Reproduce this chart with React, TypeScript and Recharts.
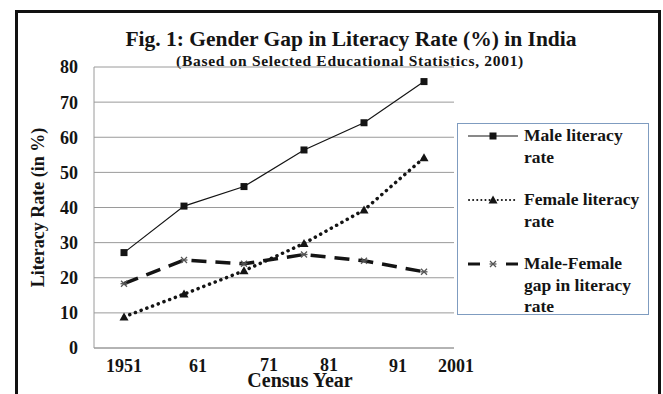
import React from "react";
import { LineChart, Line, XAxis, YAxis, CartesianGrid } from "recharts";

// Census years and literacy rates (%)
const years = ["1951", "61", "71", "81", "91", "2001"];
const maleRate = [27.16, 40.4, 45.96, 56.38, 64.13, 75.85];
const femaleRate = [8.86, 15.35, 21.97, 29.76, 39.29, 54.16];
const genderGap = [18.3, 25.05, 23.98, 26.62, 24.84, 21.69];
const yTicks = [0, 10, 20, 30, 40, 50, 60, 70, 80];

const data = years.map((year, i) => ({
  year,
  male: maleRate[i],
  female: femaleRate[i],
  gap: genderGap[i],
}));

const FONT = "'Liberation Serif', 'Times New Roman', serif";
const INK = "#141414";

// small nudges for the census-year labels
const yearLabelShift = [0, 14, 25, 25, 34, 32];
const yearLabelLift = [0, 0, 1.5, 1.5, 0, 0];

const SquareDot = (props: any) => {
  const { cx, cy } = props;
  if (cx == null || cy == null) return null;
  return <rect x={cx - 3.5} y={cy - 3.5} width={7} height={7} fill={INK} />;
};

const TriangleDot = (props: any) => {
  const { cx, cy } = props;
  if (cx == null || cy == null) return null;
  return (
    <path
      d={`M${cx},${cy - 4.5} L${cx + 4.5},${cy + 3.5} L${cx - 4.5},${cy + 3.5} Z`}
      fill={INK}
    />
  );
};

const StarDot = (props: any) => {
  const { cx, cy } = props;
  if (cx == null || cy == null) return null;
  return (
    <g stroke="#555" strokeWidth={1.3}>
      <line x1={cx - 3} y1={cy - 3} x2={cx + 3} y2={cy + 3} />
      <line x1={cx - 3} y1={cy + 3} x2={cx + 3} y2={cy - 3} />
      <line x1={cx - 3.5} y1={cy} x2={cx + 3.5} y2={cy} />
    </g>
  );
};

const YearTick = (props: any) => {
  const { x, y, payload, index } = props;
  return (
    <text
      x={x + (yearLabelShift[index] ?? 0)}
      y={y - (yearLabelLift[index] ?? 0)}
      dy="0.71em"
      textAnchor="middle"
      fontFamily={FONT}
      fontWeight="bold"
      fontSize={18}
      fill={INK}
    >
      {payload.value}
    </text>
  );
};

const legendItems = [
  { lines: ["Male literacy", "rate"], kind: "male" },
  { lines: ["Female literacy", "rate"], kind: "female" },
  { lines: ["Male-Female", "gap in literacy", "rate"], kind: "gap" },
];

const LegendSample = ({ kind }: { kind: string }) => {
  const y = 7;
  return (
    <svg width={52} height={14} style={{ display: "block" }}>
      {kind === "male" && (
        <>
          <line x1={1} y1={y} x2={51} y2={y} stroke={INK} strokeWidth={1.2} />
          <SquareDot cx={26} cy={y} />
        </>
      )}
      {kind === "female" && (
        <>
          <line
            x1={2}
            y1={y}
            x2={51}
            y2={y}
            stroke={INK}
            strokeWidth={2}
            strokeDasharray="0.1 4"
            strokeLinecap="round"
          />
          <TriangleDot cx={26} cy={y} />
        </>
      )}
      {kind === "gap" && (
        <>
          <line x1={1} y1={y} x2={13} y2={y} stroke={INK} strokeWidth={3} />
          <line x1={39} y1={y} x2={51} y2={y} stroke={INK} strokeWidth={3} />
          <StarDot cx={26} cy={y} />
        </>
      )}
    </svg>
  );
};

const LegendBox = () => (
  <div
    style={{
      position: "absolute",
      left: 457,
      top: 123,
      width: 192,
      height: 192,
      border: "1px solid #7f9cc0",
      boxSizing: "border-box",
      background: "#fff",
      fontFamily: FONT,
      fontWeight: "bold",
      fontSize: 17.5,
      color: INK,
      paddingTop: 1,
    }}
  >
    {legendItems.map((item, i) => (
      <div
        key={item.kind}
        style={{
          display: "flex",
          alignItems: "flex-start",
          marginTop: i === 0 ? 0 : 21,
        }}
      >
        <div style={{ width: 52, marginLeft: 9, marginTop: 4 }}>
          <LegendSample kind={item.kind} />
        </div>
        <div style={{ marginLeft: 5, lineHeight: "21.5px" }}>
          {item.lines.map((l) => (
            <div key={l} style={{ whiteSpace: "nowrap" }}>
              {l}
            </div>
          ))}
        </div>
      </div>
    ))}
  </div>
);

export default function App() {
  return (
    <div
      style={{
        position: "absolute",
        left: 0,
        top: 0,
        width: 663,
        height: 394,
        background: "#fff",
        overflow: "hidden",
      }}
    >
      <div
        style={{
          position: "absolute",
          left: 15,
          top: 10,
          width: 646,
          height: 400,
          border: "3px solid #111",
          boxSizing: "border-box",
        }}
      />
      <div
        style={{
          position: "absolute",
          left: 0,
          width: 702,
          top: 28,
          textAlign: "center",
          fontFamily: FONT,
          fontWeight: "bold",
          fontSize: 21.5,
          color: INK,
          lineHeight: "22px",
        }}
      >
        Fig. 1: Gender Gap in Literacy Rate (%) in India
      </div>
      <div
        style={{
          position: "absolute",
          left: 0,
          width: 700,
          top: 52.5,
          textAlign: "center",
          fontFamily: FONT,
          fontWeight: "bold",
          fontSize: 15.5,
          color: INK,
          lineHeight: "15px",
          letterSpacing: 0.7,
        }}
      >
        (Based on Selected Educational Statistics, 2001)
      </div>
      <LineChart
        width={663}
        height={394}
        data={data}
        margin={{ top: 67, right: 209, bottom: 16, left: 14 }}
      >
        <CartesianGrid horizontal vertical={false} stroke="#9a9a9a" strokeWidth={1} />
        <XAxis
          dataKey="year"
          height={30}
          stroke="#9a9a9a"
          padding={{ left: 30, right: 30 }}
          tickLine={false}
          tickSize={0}
          tickMargin={11.5}
          tick={<YearTick />}
          interval={0}
        />
        <YAxis
          width={80}
          domain={[0, 80]}
          ticks={yTicks}
          stroke="#9a9a9a"
          tickLine={false}
          tickSize={0}
          tickMargin={16}
          tick={{
            fontFamily: FONT,
            fontWeight: "bold",
            fontSize: 18,
            fill: INK,
          }}
          label={{
            value: "Literacy Rate (in %)",
            angle: -90,
            position: "insideLeft",
            offset: 24,
            style: {
              textAnchor: "middle",
              fontFamily: FONT,
              fontWeight: "bold",
              fontSize: 18,
              fill: INK,
            },
          }}
        />
        <Line
          dataKey="male"
          name="Male literacy rate"
          stroke={INK}
          strokeWidth={1.2}
          dot={<SquareDot />}
          activeDot={false}
          isAnimationActive={false}
        />
        <Line
          dataKey="female"
          name="Female literacy rate"
          stroke={INK}
          strokeWidth={3.5}
          strokeDasharray="0.1 6"
          strokeLinecap="round"
          dot={<TriangleDot />}
          activeDot={false}
          isAnimationActive={false}
        />
        <Line
          dataKey="gap"
          name="Male-Female gap in literacy rate"
          stroke={INK}
          strokeWidth={3.5}
          strokeDasharray="15 9"
          dot={<StarDot />}
          activeDot={false}
          isAnimationActive={false}
        />
      </LineChart>
      <LegendBox />
      <div
        style={{
          position: "absolute",
          left: 230,
          width: 140,
          top: 370,
          textAlign: "center",
          fontFamily: FONT,
          fontWeight: "bold",
          fontSize: 20,
          color: INK,
          lineHeight: "20px",
        }}
      >
        Census Year
      </div>
    </div>
  );
}
